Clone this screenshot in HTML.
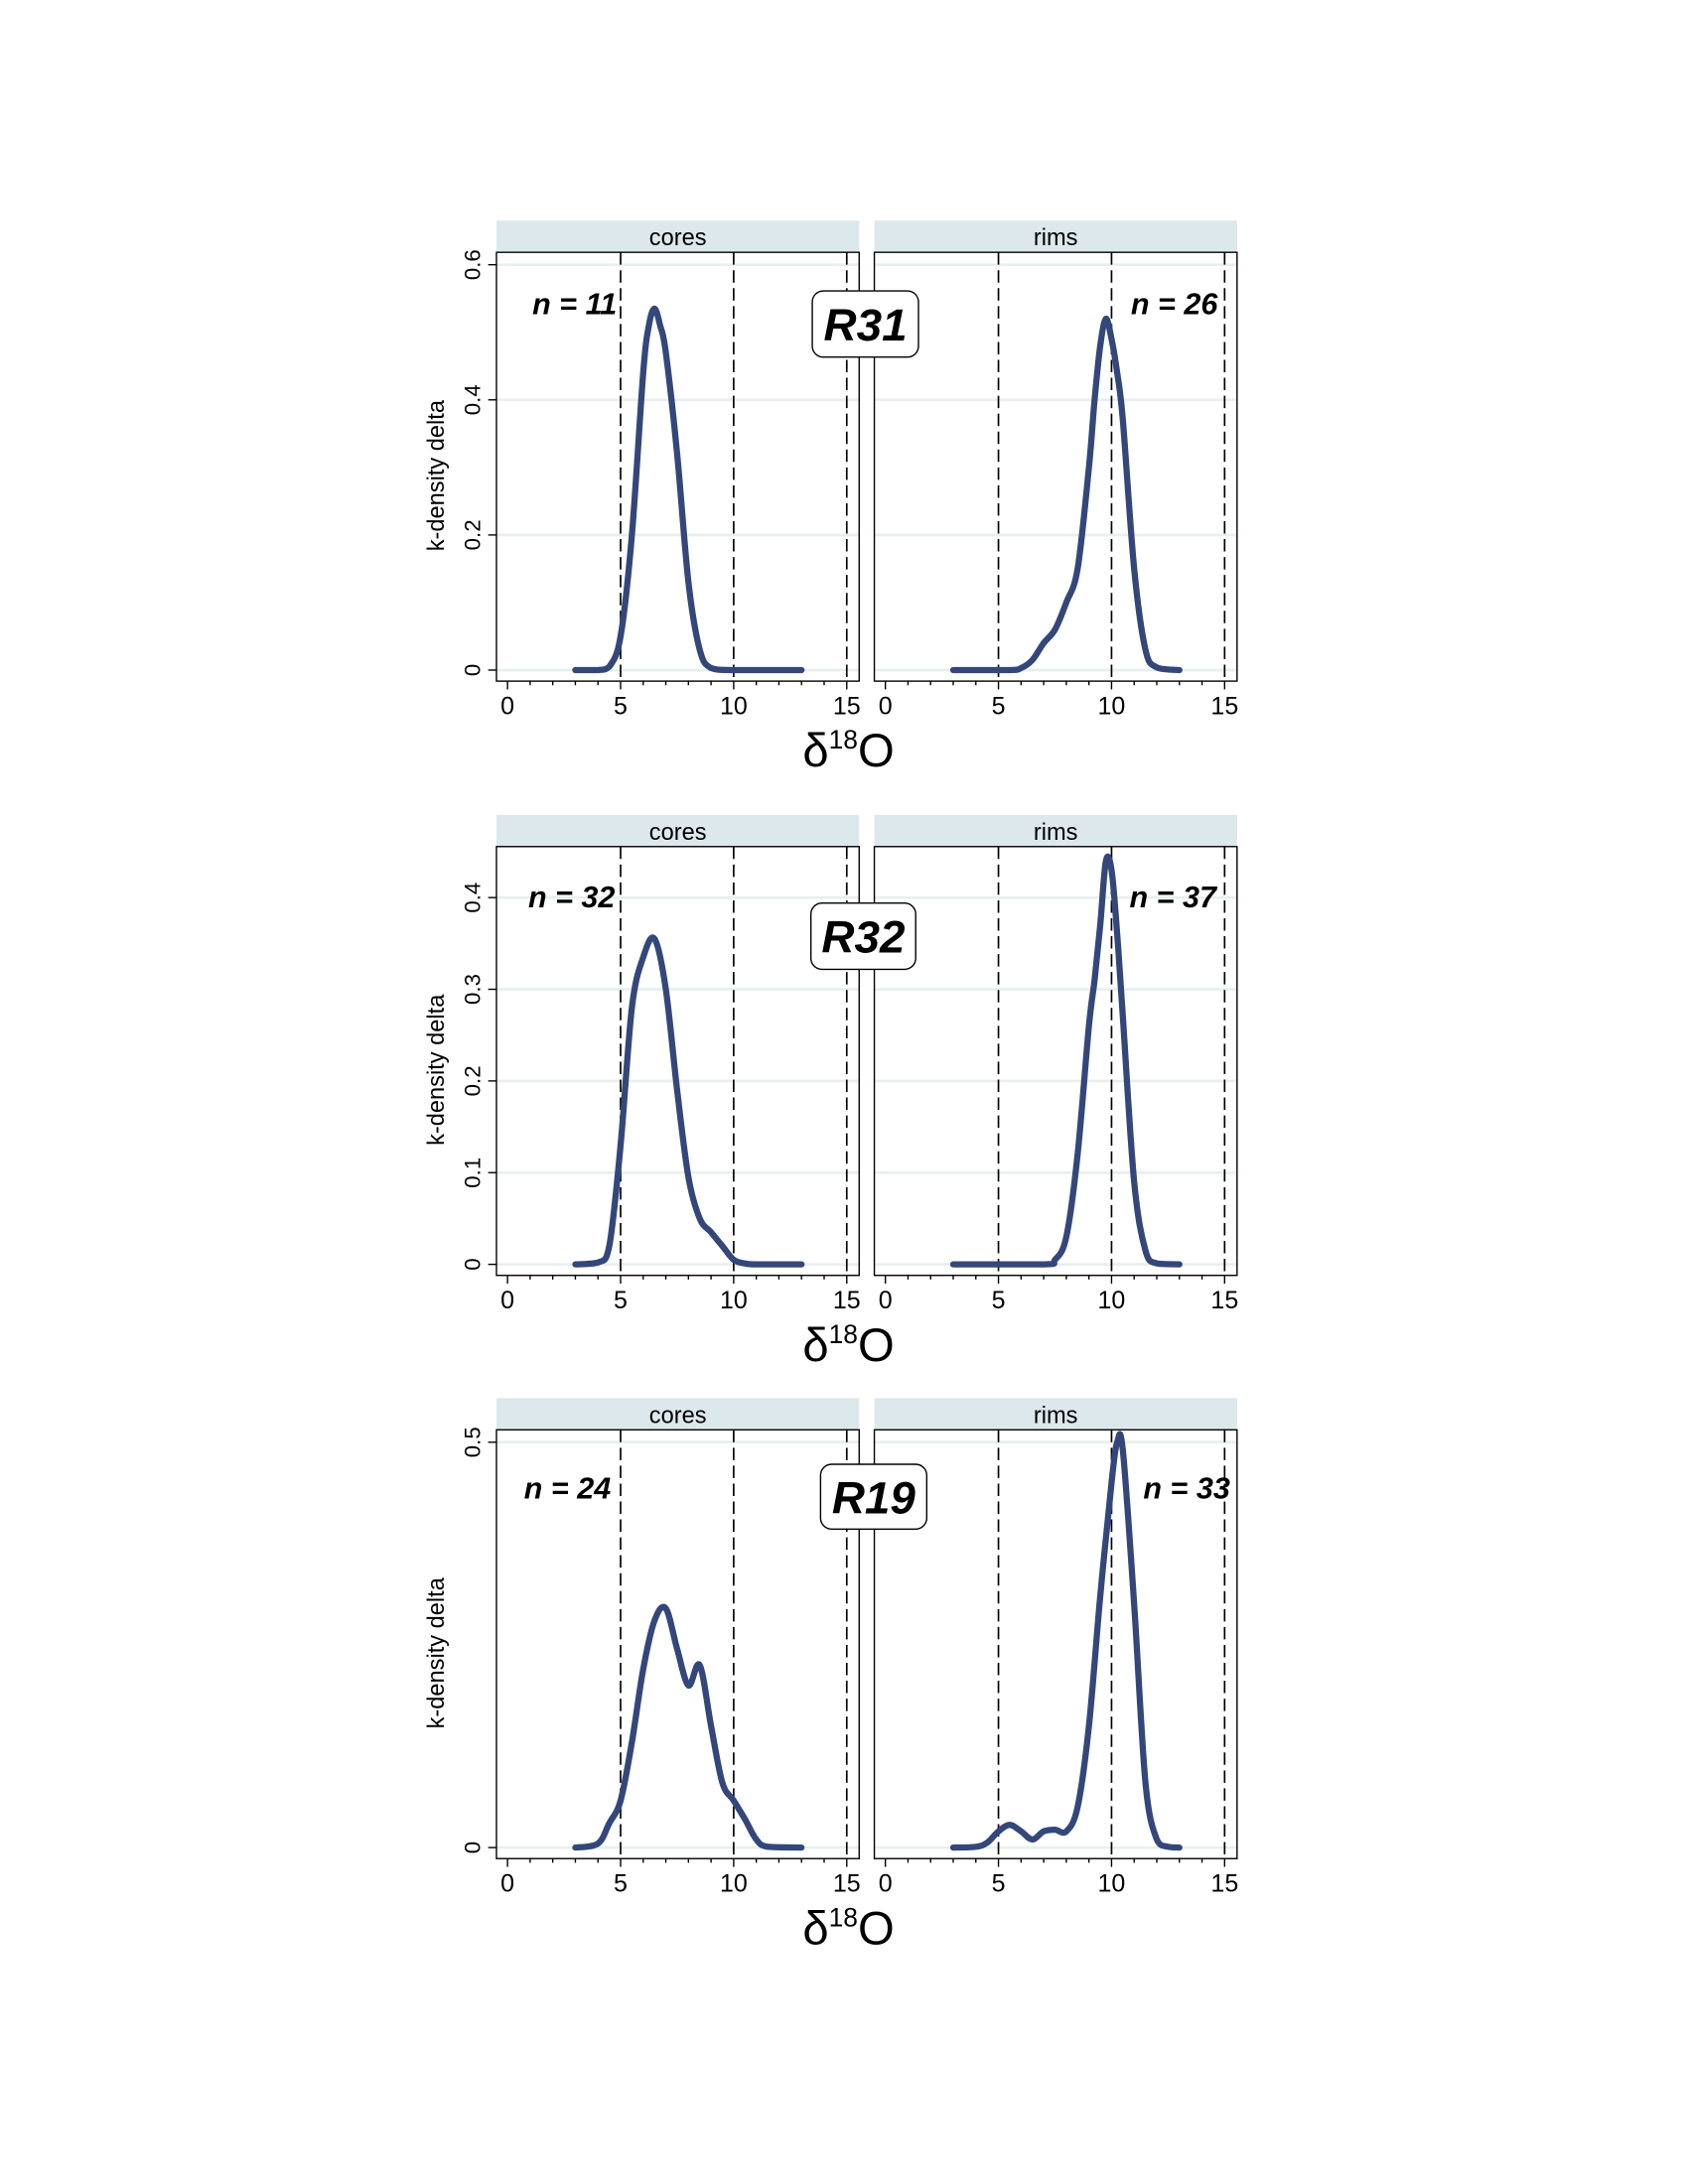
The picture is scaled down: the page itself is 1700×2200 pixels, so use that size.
<!DOCTYPE html>
<html><head><meta charset="utf-8"><style>
html,body{margin:0;padding:0;background:#fff;}
svg{display:block;}
text{font-family:"Liberation Sans",Arial,sans-serif;}
</style></head>
<body>
<svg id="chart" width="1700" height="2200" viewBox="0 0 1224 1584" xmlns="http://www.w3.org/2000/svg"></svg>
<script>
// ---- data ----
const panelLabels = ["R31", "R32", "R19"];
const facetNames = ["cores", "rims"];
const nCores = [11, 32, 24];
const nRims = [26, 37, 33];
const yMaxes = [0.6, 0.45, 0.5];
const yTicks0 = [0, 0.2, 0.4, 0.6];
const yTicks1 = [0, 0.1, 0.2, 0.3, 0.4];
const yTicks2 = [0, 0.5];
const xTicks = [0, 5, 10, 15];
const refLines = [5, 10, 15];

const r31CoresX = [3,4,4.5,5,5.5,6,6.25,6.5,6.75,7,7.5,8,8.5,9,10,13];
const r31CoresY = [0,0,0.005,0.05,0.2,0.44,0.51,0.535,0.51,0.47,0.32,0.13,0.03,0.003,0,0];
const r31RimsX = [3,5.5,6,6.5,7,7.5,8,8.5,9,9.25,9.5,9.75,10,10.25,10.5,11,11.5,12,13];
const r31RimsY = [0,0,0.003,0.015,0.04,0.06,0.1,0.15,0.3,0.4,0.48,0.52,0.49,0.44,0.37,0.15,0.03,0.004,0];
const r32CoresX = [3,4,4.5,5,5.5,6,6.5,7,7.5,8,8.5,9,9.5,10,10.5,11,13];
const r32CoresY = [0,0.002,0.02,0.13,0.28,0.335,0.355,0.3,0.19,0.095,0.05,0.035,0.02,0.005,0.001,0,0];
const r32RimsX = [3,7,7.5,8,8.5,9,9.25,9.5,9.75,10,10.25,10.5,11,11.5,12,13];
const r32RimsY = [0,0,0.005,0.03,0.12,0.26,0.31,0.37,0.44,0.43,0.36,0.27,0.09,0.015,0.001,0];
const r19CoresX = [3,4,4.5,5,5.5,6,6.5,7,7.5,8,8.5,9,9.5,10,10.5,11,11.5,13];
const r19CoresY = [0,0.005,0.03,0.058,0.13,0.22,0.28,0.295,0.245,0.2,0.225,0.15,0.08,0.058,0.035,0.01,0.001,0];
const r19RimsX = [3,4,4.5,5,5.5,6,6.5,7,7.5,8,8.5,9,9.5,10,10.25,10.5,11,11.5,12,12.5,13];
const r19RimsY = [0,0.001,0.006,0.02,0.028,0.02,0.01,0.02,0.022,0.02,0.05,0.15,0.31,0.45,0.5,0.49,0.3,0.08,0.01,0.001,0];

const seriesX = [[r31CoresX, r31RimsX],[r32CoresX, r32RimsX],[r19CoresX, r19RimsX]];
const seriesY = [[r31CoresY, r31RimsY],[r32CoresY, r32RimsY],[r19CoresY, r19RimsY]];
const yTickSets = [yTicks0, yTicks1, yTicks2];

// ---- layout (viewBox units) ----
const NS = "http://www.w3.org/2000/svg";
const svg = document.getElementById("chart");
function el(tag, attrs, parent, txt){
  const e = document.createElementNS(NS, tag);
  for (const k in attrs) e.setAttribute(k, attrs[k]);
  if (txt !== undefined) e.textContent = txt;
  (parent || svg).appendChild(e);
  return e;
}
const panelTops = [160, 591, 1014];
const zeroOff = 326;
const facetLeft = [360, 634];
const facetW = 263;
const topTickOff = [192-160, 651-591, 1046-1014];
const labelBoxes = [[589,211,77,48],[588,655,76,48],[595,1062,77,47]];
const nPosC = [[386,228],[383,658],[380,1087]];
const nPosR = [[820,228],[819,658],[829,1087]];

for (let p = 0; p < 3; p++) {
  const top = panelTops[p];
  const g = el("g", {}, svg);
  
  
  const y0 = top + zeroOff;
  const yTop = top + topTickOff[p];
  const ticks = yTickSets[p];
  const tMax = ticks[ticks.length - 1];
  const ys = v => y0 - (v / tMax) * (y0 - yTop);

  for (let f = 0; f < 2; f++) {
    const L = facetLeft[f];
    const xs = v => L + 8 + v * 16.4;
    const fg = el("g", {}, g);
    
    
    const strip = el("rect", {x:L, y:top, width:facetW, height:23, fill:"#dde8ec"}, fg);
    
    
    const st = el("text", {x:L+facetW/2, y:top+18, "text-anchor":"middle", "font-size":"17"}, fg, facetNames[f]);
    
    
    for (const t of ticks) {
      const gl = el("line", {x1:L, x2:L+facetW, y1:ys(t), y2:ys(t), stroke:"#e8efef", "stroke-width":"2"}, fg);
      
      
    }
    for (const r of refLines) {
      const rl = el("line", {x1:xs(r), x2:xs(r), y1:top+23, y2:top+334, stroke:"#000", "stroke-width":"1.2", "stroke-dasharray":"9,4"}, fg);
      
      
    }
    const bx = el("rect", {x:L, y:top+23, width:facetW, height:311, fill:"none", stroke:"#000", "stroke-width":"1"}, fg);
    
    
    for (let v = 0; v <= 15; v++) {
      const major = v % 5 === 0;
      el("line", {x1:xs(v), x2:xs(v), y1:top+334, y2:top+334+(major?6:3), stroke:"#000", "stroke-width":"1"}, fg);
    }
    for (const t of xTicks) {
      const tl = el("text", {x:xs(t), y:top+358, "text-anchor":"middle", "font-size":"18"}, fg, String(t));
      
      
    }
    const X = seriesX[p][f], Y = seriesY[p][f];
    const pts = X.map((x,i)=>[xs(x), ys(Y[i])]);
    let d = "M" + pts[0][0].toFixed(2) + "," + pts[0][1].toFixed(2);
    for (let i = 0; i < pts.length - 1; i++) {
      const p0 = pts[Math.max(0,i-1)], p1 = pts[i], p2 = pts[i+1], p3 = pts[Math.min(pts.length-1,i+2)];
      let c1y = p1[1] + (p2[1]-p0[1])/6, c2y = p2[1] - (p3[1]-p1[1])/6;
      c1y = Math.min(c1y, y0); c2y = Math.min(c2y, y0);
      const c1x = p1[0] + (p2[0]-p0[0])/6, c2x = p2[0] - (p3[0]-p1[0])/6;
      d += " C" + c1x.toFixed(2) + "," + c1y.toFixed(2) + " " + c2x.toFixed(2) + "," + c2y.toFixed(2) + " " + p2[0].toFixed(2) + "," + p2[1].toFixed(2);
    }
    const cv = el("path", {d:d, fill:"none", stroke:"#34477a", "stroke-width":"4.5", "stroke-linecap":"round", "stroke-linejoin":"round"}, fg);
    
    
  }
  for (const t of ticks) {
    el("line", {x1:facetLeft[0]-6, x2:facetLeft[0], y1:ys(t), y2:ys(t), stroke:"#000", "stroke-width":"1"}, g);
    const yl = el("text", {x:0, y:0, "text-anchor":"middle", "font-size":"16", transform:"translate(348," + ys(t) + ") rotate(-90)"}, g, String(t));
    
    
  }
  const yt = el("text", {x:0, y:0, "text-anchor":"middle", "font-size":"17", transform:"translate(322," + (top+185) + ") rotate(-90)"}, g, "k-density delta");
  
  
  const xt = el("text", {x:582, y:top+396, "font-size":"34"}, g);
  
  
  xt.innerHTML = 'δ<tspan font-size="19" dy="-13">18</tspan><tspan dy="13">O</tspan>';
  const nc = el("text", {x:nPosC[p][0], y:nPosC[p][1], "font-size":"22", "font-weight":"bold", "font-style":"italic"}, g, "n = " + nCores[p]);
  
  
  const nr = el("text", {x:nPosR[p][0], y:nPosR[p][1], "font-size":"22", "font-weight":"bold", "font-style":"italic"}, g, "n = " + nRims[p]);
  
  
  const b = labelBoxes[p];
  const lb = el("rect", {x:b[0], y:b[1], width:b[2], height:b[3], rx:8, fill:"#fff", stroke:"#000", "stroke-width":"1"}, g);
  
  
  const lt = el("text", {x:b[0]+b[2]/2, y:b[1]+b[3]/2+12, "text-anchor":"middle", "font-size":"33", "font-weight":"bold", "font-style":"italic"}, g, panelLabels[p]);
  
  
}
</script>
</body></html>
